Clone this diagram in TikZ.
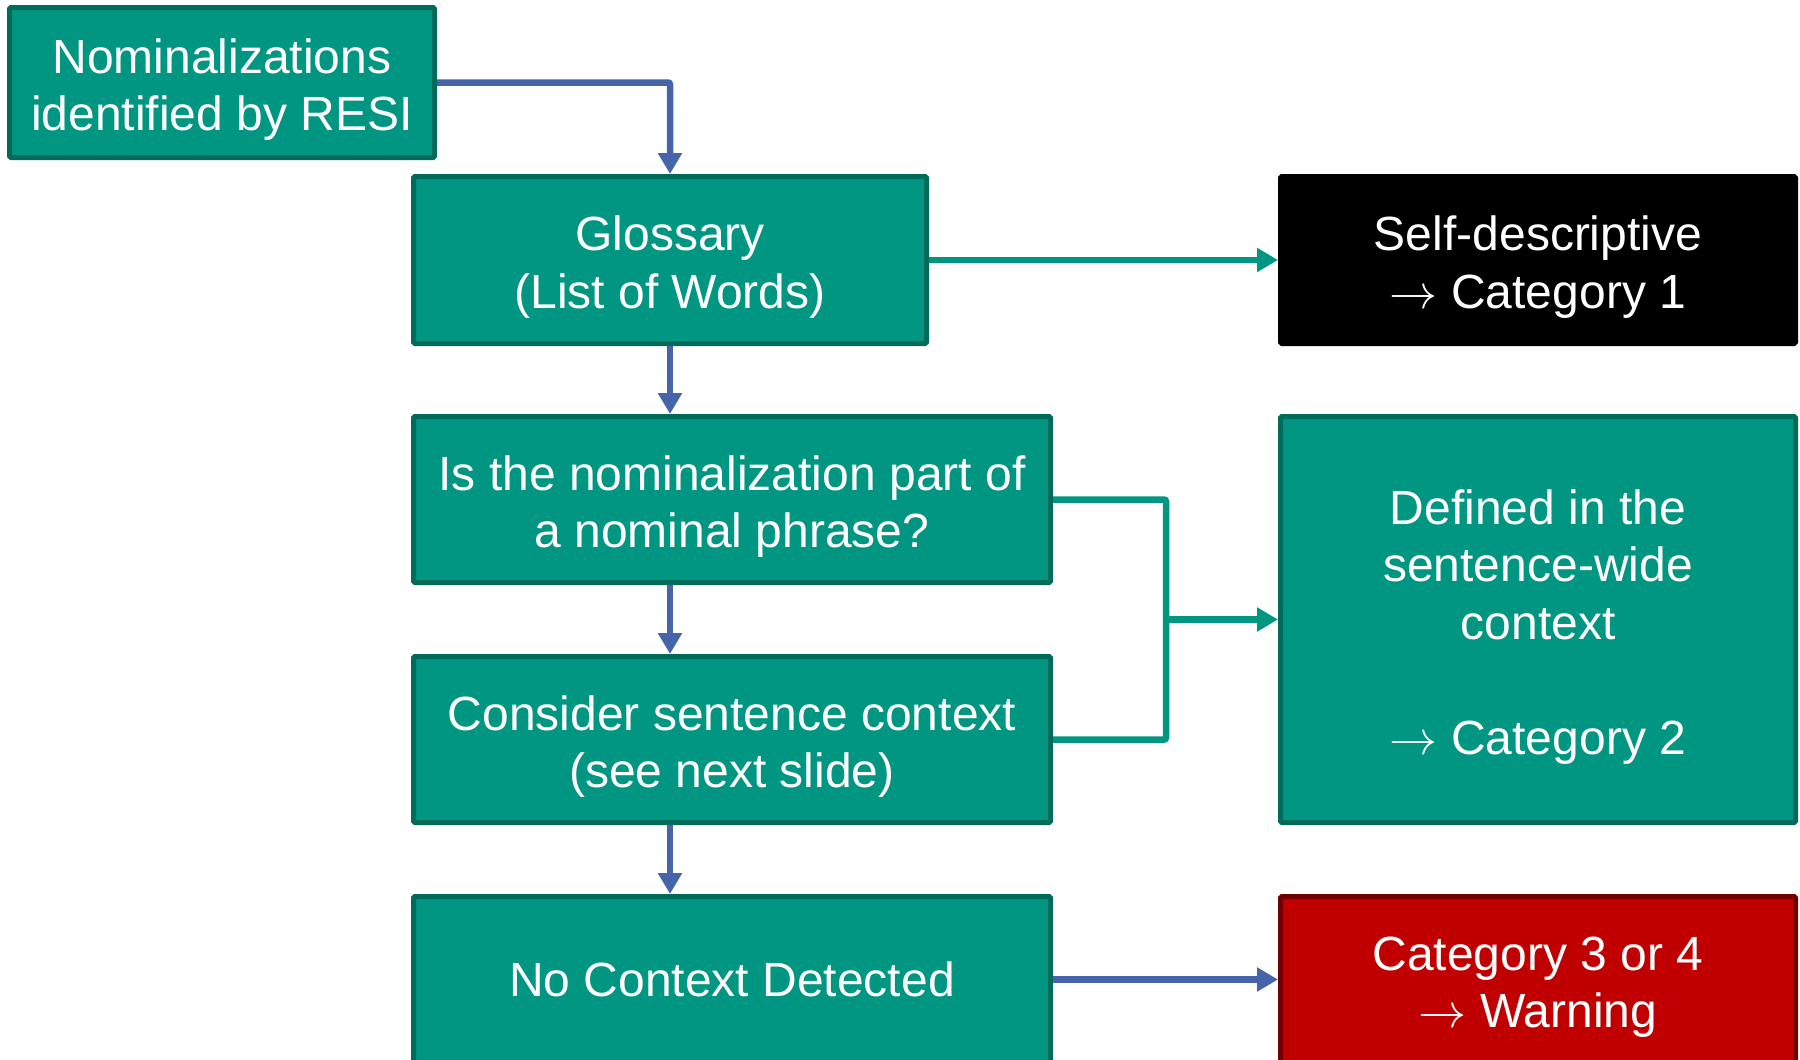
\RequirePackage{fix-cm}
\documentclass[tikz,border=0pt]{standalone}
\usepackage{fontspec}
\setmainfont{Liberation Sans}
\usetikzlibrary{arrows.meta}
\definecolor{tealfill}{RGB}{0,150,130}
\definecolor{tealedge}{RGB}{0,107,90}
\definecolor{arrowblue}{RGB}{70,100,170}
\definecolor{redfill}{RGB}{192,0,0}
\definecolor{rededge}{RGB}{112,0,0}
\newcommand{\toarr}{$\rightarrow$}
\newcommand{\topS}{\rule{0pt}{53pt}}
\newcommand{\oneS}{\rule{0pt}{48pt}}
\begin{document}
\begin{tikzpicture}[x=1pt,y=-1pt,
  box/.style={draw=tealedge, fill=tealfill, line width=5pt, text=white, align=center,
    inner sep=0pt, font=\fontsize{48}{57.5}\selectfont, rounded corners=1.5pt,
    execute at end node={\rule[-14pt]{0pt}{14pt}}},
  blackbox/.style={box, draw=black, fill=black},
  redbox/.style={box, draw=rededge, fill=redfill},
  bluearrow/.style={draw=arrowblue, line width=6.5pt, -{Triangle[width=23pt,length=21pt]}, rounded corners=2pt},
  tealarrow/.style={draw=tealfill, line width=6.5pt, -{Triangle[width=23pt,length=21pt]}, rounded corners=2pt},
  tealline/.style={draw=tealfill, line width=6.5pt, rounded corners=2pt}]
\useasboundingbox (0,0) rectangle (1800,1060);
\node[box, minimum width=425pt, minimum height=150pt] (A) at (222,82.5) {\topS Nominalizations\\identified by RESI};
\node[box, minimum width=513pt, minimum height=167pt] (B) at (670,260) {\topS Glossary\\(List of Words)};
\node[box, minimum width=637pt, minimum height=166pt] (C) at (732,499.5) {\topS Is the nominalization part of\\a nominal phrase?};
\node[box, minimum width=637pt, minimum height=166pt] (D) at (732,739.5) {\topS Consider sentence context\\(see next slide)};
\node[box, minimum width=637pt, minimum height=166pt] (E) at (732,979.5) {\oneS No Context Detected};
\node[blackbox, minimum width=515pt, minimum height=167pt] (F) at (1538,260) {\topS Self-descriptive\\\toarr{} Category 1};
\node[box, minimum width=515pt, minimum height=406pt] (G) at (1538,619.5) {\topS Defined in the\\sentence-wide\\context\\[57.5pt]\toarr{} Category 2};
\node[redbox, minimum width=515pt, minimum height=166pt] (H) at (1538,979.5) {\topS Category 3 or 4\\\toarr{} Warning};
\coordinate (J) at (1166,619.5);
\draw[bluearrow] (A.east) -| (B.north);
\draw[bluearrow] (B.south) -- (B.south |- C.north);
\draw[bluearrow] (B.south |- C.south) -- (B.south |- D.north);
\draw[bluearrow] (B.south |- D.south) -- (B.south |- E.north);
\draw[bluearrow] (E.east) -- (H.west);
\draw[tealarrow] (B.east) -- (F.west);
\draw[tealline] (C.east) -| (J) |- (D.east);
\draw[tealarrow] (J) -- (G.west);
\end{tikzpicture}
\end{document}
